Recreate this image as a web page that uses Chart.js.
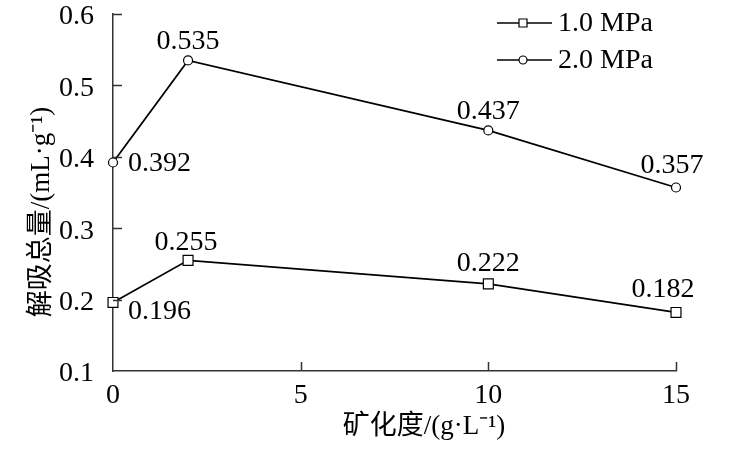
<!DOCTYPE html>
<html>
<head>
<meta charset="utf-8">
<script src="https://cdn.jsdelivr.net/npm/chart.js@4/dist/chart.umd.min.js"></script>
<style>
  html, body { margin: 0; padding: 0; background: #fff; }
</style>
</head>
<body>
<canvas id="chart" width="740" height="453"></canvas>
<script>
/* Desorption total vs salinity - two pressure series. */

const xValues     = [0, 2, 10, 15];
const seriesNames = ["1.0 MPa", "2.0 MPa"];
const series1MPa  = [0.196, 0.255, 0.222, 0.182];
const series2MPa  = [0.392, 0.535, 0.437, 0.357];
const xTicks      = [0, 5, 10, 15];
const yTicks      = [0.1, 0.2, 0.3, 0.4, 0.5, 0.6];
const xTitle      = "矿化度/(g·L⁻¹)";
const yTitle      = "解吸总量/(mL·g⁻¹)";

// value label placement, relative to the point: [dx, dy, align]
const labelPos = [
  [[15, 9, "left"], [-2, -18, "center"], [0, -20, "center"], [-13, -23, "center"]],
  [[15, 1, "left"], [0, -19, "center"], [0, -19, "center"], [-4, -22, "center"]],
];

const SERIF = "'Liberation Serif', 'Times New Roman', 'Noto Sans CJK SC', serif";
const AXIS_COLOR = "#333";

// ----- inward ticks, value labels, titles, legend -----
const decor = {
  id: "decor",
  afterDraw(chart) {
    const ctx = chart.ctx;
    const xs = chart.scales.x, ys = chart.scales.y;
    const area = chart.chartArea;
    ctx.save();

    // inward tick marks
    ctx.strokeStyle = AXIS_COLOR;
    ctx.lineWidth = 1.5;
    ctx.beginPath();
    for (const v of xTicks) {
      if (v === xs.min) continue;
      const px = Math.round(xs.getPixelForValue(v)) + 0.5;
      ctx.moveTo(px, area.bottom); ctx.lineTo(px, area.bottom - 9);
    }
    for (const v of yTicks) {
      if (v === ys.min) continue;
      const py = Math.round(ys.getPixelForValue(v)) + 0.5;
      ctx.moveTo(area.left, py); ctx.lineTo(area.left + 9, py);
    }
    ctx.stroke();

    // value labels
    ctx.fillStyle = "#000";
    ctx.font = "28px " + SERIF;
    ctx.textBaseline = "middle";
    chart.data.datasets.forEach((ds, di) => {
      const meta = chart.getDatasetMeta(di);
      meta.data.forEach((pt, i) => {
        const [dx, dy, align] = labelPos[di][i];
        ctx.textAlign = align;
        ctx.fillText(ds.data[i].y.toFixed(3), pt.x + dx, pt.y + dy);
      });
    });

    // axis titles
    ctx.font = "27px " + SERIF;
    ctx.textAlign = "center";
    ctx.fillText(xTitle, 424, 427);
    ctx.save();
    ctx.translate(42, 212);
    ctx.rotate(-Math.PI / 2);
    ctx.fillText(yTitle, 0, 0);
    ctx.restore();

    // legend
    const rows = [23, 60];
    chart.data.datasets.forEach((ds, di) => {
      const y = rows[di];
      ctx.strokeStyle = "#000";
      ctx.lineWidth = 1.5;
      ctx.beginPath();
      ctx.moveTo(497, y); ctx.lineTo(552, y);
      ctx.stroke();
      ctx.fillStyle = "#fff";
      ctx.lineWidth = 1.2;
      ctx.beginPath();
      if (di === 0) ctx.rect(519, y - 4, 8, 8);
      else ctx.arc(523, y, 4, 0, Math.PI * 2);
      ctx.fill(); ctx.stroke();
      ctx.fillStyle = "#000";
      ctx.font = "28px " + SERIF;
      ctx.textAlign = "left";
      ctx.fillText(ds.label, 558, y + 1);
    });
    ctx.restore();
  },
};

const mkData = (ys) => xValues.map((x, i) => ({ x, y: ys[i] }));

new Chart(document.getElementById("chart"), {
  type: "line",
  data: {
    datasets: [
      { label: seriesNames[0], data: mkData(series1MPa), pointStyle: "rect", pointRadius: 7 },
      { label: seriesNames[1], data: mkData(series2MPa), pointStyle: "circle", pointRadius: 4.5 },
    ].map(d => Object.assign(d, {
      borderColor: "#000", borderWidth: 1.8, tension: 0, clip: false,
      pointBackgroundColor: "#fff", pointBorderColor: "#000", pointBorderWidth: 1.2,
    })),
  },
  options: {
    responsive: false,
    animation: false,
    layout: { padding: { top: 14, right: 64, bottom: 0, left: 0 } },
    plugins: { legend: { display: false }, tooltip: { enabled: false } },
    scales: {
      x: {
        type: "linear", min: 0, max: 15,
        afterBuildTicks: (s) => { s.ticks = xTicks.map(v => ({ value: v })); },
        afterFit: (s) => { s.height = 82; s.paddingLeft = 0; s.paddingRight = 0; },
        grid: { display: false },
        border: { display: true, color: AXIS_COLOR, width: 1.5 },
        ticks: { color: "#000", padding: 0, font: { family: SERIF, size: 28 } },
      },
      y: {
        type: "linear", min: 0.1, max: 0.6,
        afterBuildTicks: (s) => { s.ticks = yTicks.map(v => ({ value: v })); },
        afterFit: (s) => { s.width = 113; s.paddingTop = 0; s.paddingBottom = 0; },
        grid: { display: false },
        border: { display: true, color: AXIS_COLOR, width: 1.5 },
        ticks: { color: "#000", padding: 11, labelOffset: 3, font: { family: SERIF, size: 28 },
                 callback: (v) => v.toFixed(1) },
      },
    },
  },
  plugins: [decor],
});
</script>
</body>
</html>
